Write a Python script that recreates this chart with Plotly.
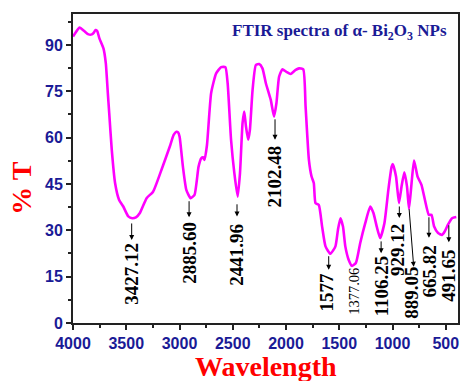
import plotly.graph_objects as go

# ---- data ----
wavenumber = [4000, 3938, 3895, 3854, 3823, 3806, 3789, 3773, 3752, 3714, 3692, 3673, 3660,
              3636, 3605, 3568, 3528, 3481, 3444, 3409, 3372, 3309, 3248, 3169, 3091, 3055,
              3029, 3013, 2999, 2968, 2936, 2896, 2859, 2821, 2796, 2779, 2765, 2742, 2703,
              2656, 2609, 2569, 2548, 2516, 2485, 2454, 2432, 2408, 2392, 2376, 2355, 2339,
              2314, 2283, 2252, 2221, 2189, 2143, 2112, 2090, 2065, 2034, 1997, 1956, 1909,
              1878, 1838, 1816, 1785, 1760, 1739, 1723, 1692, 1661, 1629, 1583, 1536, 1512,
              1489, 1465, 1443, 1412, 1381, 1344, 1303, 1256, 1209, 1179, 1148, 1116, 1076,
              1039, 1008, 996, 967, 939, 915, 889, 864, 845, 821, 798, 765, 728, 696, 659,
              634, 609, 572, 535, 510, 479, 441, 401]
transmittance = [92.7, 95.6, 94.5, 93.4, 93.4, 93.9, 94.8, 94.5, 92.1, 88.9, 84.1, 74.4, 68.0,
                 56.0, 45.3, 39.9, 37.7, 34.5, 33.9, 34.2, 35.6, 40.4, 42.5, 49.6, 57.1, 60.9,
                 61.9, 61.7, 60.3, 50.6, 43.1, 40.4, 41.5, 50.6, 53.3, 53.6, 52.8, 57.6, 74.4,
                 80.8, 82.8, 82.8, 77.6, 59.3, 48.5, 40.9, 48.5, 64.7, 68.4, 63.6, 59.3, 62.5,
                 75.4, 83.5, 83.8, 82.4, 77.6, 72.2, 66.8, 71.1, 79.7, 82.1, 81.3, 80.6, 81.9,
                 82.4, 82.1, 70.0, 52.8, 47.4, 45.3, 38.8, 38.2, 31.2, 24.8, 22.4, 24.8, 30.2,
                 33.9, 31.2, 24.8, 20.5, 18.5, 19.4, 25.9, 32.3, 37.7, 35.6, 31.2, 27.5, 32.3,
                 43.1, 50.6, 51.4, 47.4, 38.8, 44.2, 48.8, 44.2, 36.9, 45.3, 52.6, 47.4, 44.7, 39.9, 35.0,
                 35.0, 31.2, 29.1, 28.5, 29.6, 31.8, 33.9, 34.3]

peak_labels = ["3427.12", "2885.60", "2441.96", "2102.48", "1577", "1377.06",
               "1106.25", "929.12", "889.05", "665.82", "491.65"]

x_ticks = [4000, 3500, 3000, 2500, 2000, 1500, 1000, 500]
y_ticks = [0, 15, 30, 45, 60, 75, 90]

# ---- label placement (layout) ----
# (arrow tail x, tail y, head x, head y) or None ; (text x, text y, size, bold)
arrows = [(3449, 32.7, 3449, 26.9), (2910, 39.9, 2910, 34.2), (2460, 38.9, 2460, 34.5),
          (2103, 66.4, 2103, 59.3), (1599, 22.1, 1599, 17.2), None,
          (1107, 26.9, 1107, 22.6), (936, 38.2, 936, 34.0), (845, 37.3, 801, 18.2),
          (658, 34.7, 658, 27.6), (471, 32.1, 471, 26.1)]
texts = [(3446, 15.9, 19, True), (2905, 22.6, 19, True), (2460, 22.1, 19, True),
         (2112, 47.4, 19, True), (1620, 10.0, 19, True), (1356, 10.3, 14.5, False),
         (1107, 11.9, 19, True), (955, 23.7, 19, True), (817, 9.8, 19, True),
         (656, 16.7, 19, True), (469, 15.3, 19, True)]

fig = go.Figure()
fig.add_trace(go.Scatter(x=wavenumber, y=transmittance, mode="lines",
                         line=dict(color="#ff00ff", width=2.6, shape="spline", smoothing=0.5),
                         hoverinfo="skip", showlegend=False))

annotations = []
for lab, arr, tx in zip(peak_labels, arrows, texts):
    if arr is not None:
        annotations.append(dict(x=arr[2], y=arr[3], ax=arr[0], ay=arr[1], xref="x", yref="y",
                                axref="x", ayref="y", text="", showarrow=True,
                                arrowhead=2, arrowsize=1, arrowwidth=1, arrowcolor="black"))
    annotations.append(dict(x=tx[0], y=tx[1], xref="x", yref="y", text=lab, showarrow=False,
                            textangle=-90,
                            font=dict(family="Liberation Serif", size=tx[2], color="black",
                                      weight="bold" if tx[3] else "normal")))

annotations.append(dict(x=0.692, y=0.985, xref="paper", yref="paper", xanchor="center", yanchor="top",
                        text="FTIR spectra of α- Bi<sub>2</sub>O<sub>3</sub> NPs", showarrow=False,
                        font=dict(family="Liberation Serif", size=17, color="#1a1a96", weight="bold")))
annotations.append(dict(x=0.5, y=-0.141, xref="paper", yref="paper", xanchor="center", yanchor="middle",
                        text="Wavelength", showarrow=False,
                        font=dict(family="Liberation Serif", size=28, color="red", weight="bold")))
annotations.append(dict(x=-0.134, y=0.436, xref="paper", yref="paper", xanchor="center", yanchor="middle",
                        text="% T", showarrow=False, textangle=-90,
                        font=dict(family="Liberation Serif", size=28, color="red", weight="bold")))

axis_common = dict(showline=True, linecolor="#222222", linewidth=1.8, mirror=True,
                   ticks="outside", ticklen=5, tickwidth=1.5, tickcolor="#222222",
                   showgrid=False, zeroline=False,
                   tickfont=dict(family="Liberation Sans", size=16, color="#1a1a96", weight="bold"))

fig.update_layout(
    width=462, height=381,
    margin=dict(l=73, r=2, t=14, b=58),
    plot_bgcolor="white", paper_bgcolor="white",
    xaxis=dict(range=[4000, 385], tickvals=x_ticks, ticktext=[str(v) for v in x_ticks],
               minor=dict(ticks="outside", ticklen=3, dtick=250, tick0=0, tickcolor="#222222"),
               **axis_common),
    yaxis=dict(range=[0, 100], tickvals=y_ticks, ticktext=[str(v) for v in y_ticks],
               minor=dict(ticks="outside", ticklen=3, dtick=7.5, tick0=0, tickcolor="#222222"),
               **axis_common),
    annotations=annotations,
)

fig.write_html("out.html", config={"displayModeBar": False},
               post_script="document.body.style.margin='0';document.body.style.overflow='hidden';")
